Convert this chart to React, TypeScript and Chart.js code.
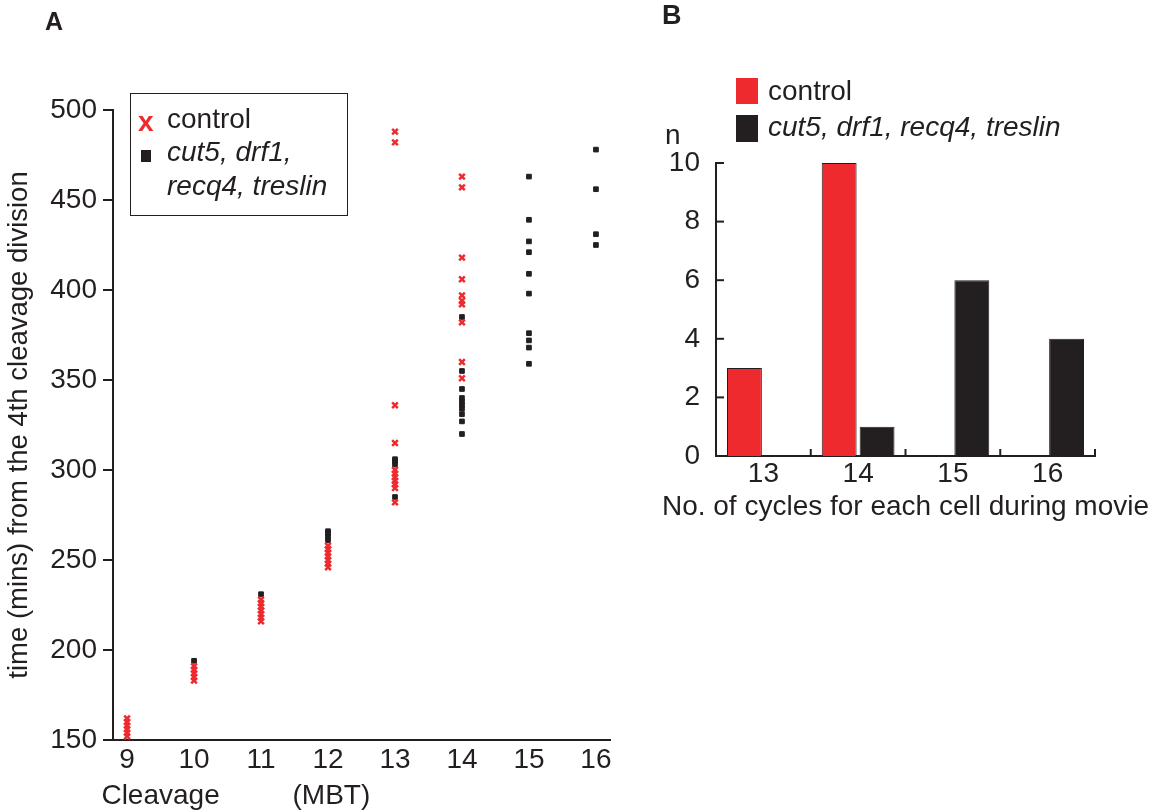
import React, { useEffect, useRef } from 'react';
import { Chart, registerables } from 'chart.js';

Chart.register(...registerables);

const RED = '#EE2A2E';
const INK = '#231F20';
const FONT = '"Liberation Sans", Arial, Helvetica, sans-serif';

// ---------- Panel A data ----------
const cleavages = [9, 10, 11, 12, 13, 14, 15, 16];
const controlTimes: number[][] = [
  [152, 154, 156, 158, 160, 162],
  [183, 185, 187, 189, 191],
  [216, 218, 220, 222, 224, 226, 228],
  [246, 248, 250, 252, 254, 256, 258],
  [488, 482, 336, 315, 300, 298, 296, 294, 292, 290, 282],
  [463, 457, 418, 406, 397, 394, 392, 382, 360, 351],
  [],
  [],
];
const mutantTimes: number[][] = [
  [],
  [194],
  [231],
  [261, 263, 265, 266],
  [303, 305, 306, 285],
  [385, 355, 345, 340, 338, 336, 334, 331, 327, 320],
  [463, 439, 427, 421, 409, 398, 376, 372, 368, 359],
  [478, 456, 431, 425],
];
const timeMin = 150;
const timeMax = 500;
const timeStep = 50;
const yTitleA = 'time (mins) from the 4th cleavage division';

// ---------- Panel B data ----------
const cycleCategories = ['13', '14', '15', '16'];
const controlCounts = [3, 10, 0, 0];
const mutantCounts = [0, 1, 6, 4];
const countTicks = [0, 2, 4, 6, 8, 10];
const xTitleB = 'No. of cycles for each cell during movie';

const toPoints = (groups: number[][]) =>
  groups.flatMap((vals, i) => vals.map((v) => ({ x: cleavages[i], y: v })));

const tickFont = { family: FONT, size: 28 };

const captionA = {
  id: 'captionA',
  afterDraw(chart: any) {
    const { ctx, scales } = chart;
    const x = scales.x;
    ctx.save();
    ctx.fillStyle = INK;
    ctx.font = `28px ${FONT}`;
    ctx.textAlign = 'center';
    ctx.textBaseline = 'alphabetic';
    ctx.fillText('Cleavage', x.getPixelForValue(9.5), x.top + 64);
    ctx.fillText('(MBT)', x.getPixelForValue(12.05), x.top + 64);
    ctx.restore();
  },
};

const innerTicksB = {
  id: 'innerTicksB',
  afterDraw(chart: any) {
    const { ctx, scales, chartArea } = chart;
    const { x, y } = scales;
    ctx.save();
    ctx.strokeStyle = INK;
    ctx.lineWidth = 2;
    for (const v of countTicks) {
      const py = y.getPixelForValue(v);
      ctx.beginPath();
      ctx.moveTo(chartArea.left, py);
      ctx.lineTo(chartArea.left + 8, py);
      ctx.stroke();
    }
    const n = cycleCategories.length;
    const w = (chartArea.right - chartArea.left) / n;
    for (let i = 0; i < n; i++) {
      const px = x.getPixelForValue(i) + w / 2;
      ctx.beginPath();
      ctx.moveTo(px, chartArea.bottom);
      ctx.lineTo(px, chartArea.bottom - 7);
      ctx.stroke();
    }
    ctx.fillStyle = INK;
    ctx.font = `28px ${FONT}`;
    ctx.textAlign = 'center';
    ctx.textBaseline = 'alphabetic';
    ctx.fillText(xTitleB, (chartArea.left + chartArea.right) / 2, chartArea.bottom + 59);
    ctx.restore();
  },
};

function ScatterA() {
  const ref = useRef<HTMLCanvasElement>(null);
  useEffect(() => {
    const chart = new Chart(ref.current!, {
      type: 'scatter',
      data: {
        datasets: [
          {
            label: 'control',
            data: toPoints(controlTimes),
            pointStyle: 'crossRot',
            pointRadius: 4,
            pointBorderWidth: 2.5,
            borderColor: RED,
            backgroundColor: RED,
          } as any,
          {
            label: 'cut5, drf1, recq4, treslin',
            data: toPoints(mutantTimes),
            pointStyle: 'rect',
            pointRadius: 3.3,
            pointBorderWidth: 1,
            borderColor: INK,
            backgroundColor: INK,
          } as any,
        ],
      },
      options: {
        responsive: false,
        animation: false,
        events: [],
        layout: { padding: { top: 110, right: 30, left: 0, bottom: 0 } },
        plugins: { legend: { display: false }, tooltip: { enabled: false } },
        scales: {
          x: {
            type: 'linear',
            min: 8.79,
            max: 16.21,
            afterFit: (s: any) => {
              s.height = 70;
            },
            grid: { display: false },
            border: { display: true, color: INK, width: 2 },
            ticks: {
              stepSize: 1,
              includeBounds: false,
              color: INK,
              font: tickFont,
              padding: -5,
              maxRotation: 0,
            },
          },
          y: {
            type: 'linear',
            min: timeMin,
            max: timeMax,
            afterFit: (s: any) => {
              s.width = 113;
            },
            grid: {
              display: true,
              drawOnChartArea: false,
              drawTicks: true,
              tickLength: 10,
              color: INK,
              lineWidth: 2,
            },
            border: { display: true, color: INK, width: 2 },
            ticks: { stepSize: timeStep, color: INK, font: tickFont, padding: 6 },
            title: {
              display: true,
              text: yTitleA,
              color: INK,
              font: { family: FONT, size: 27.5 },
              padding: { top: 3, bottom: 0 },
            },
          },
        },
      } as any,
      plugins: [captionA],
    });
    return () => chart.destroy();
  }, []);
  return (
    <canvas
      ref={ref}
      width={640}
      height={810}
      style={{ position: 'absolute', left: 0, top: 0, width: 640, height: 810 }}
    />
  );
}

function BarsB() {
  const ref = useRef<HTMLCanvasElement>(null);
  useEffect(() => {
    const chart = new Chart(ref.current!, {
      type: 'bar',
      data: {
        labels: cycleCategories,
        datasets: [
          {
            label: 'control',
            data: controlCounts,
            backgroundColor: RED,
            borderColor: INK,
            borderWidth: 1,
          },
          {
            label: 'cut5, drf1, recq4, treslin',
            data: mutantCounts,
            backgroundColor: INK,
            borderColor: INK,
            borderWidth: 1,
          },
        ],
      },
      options: {
        responsive: false,
        animation: false,
        events: [],
        layout: { padding: { top: 163, right: 71, left: 0, bottom: 0 } },
        datasets: { bar: { categoryPercentage: 0.8, barPercentage: 0.92 } },
        plugins: { legend: { display: false }, tooltip: { enabled: false } },
        scales: {
          x: {
            afterFit: (s: any) => {
              s.height = 80;
            },
            grid: { display: false },
            border: { display: true, color: INK, width: 2 },
            ticks: { color: INK, font: tickFont, padding: -7, maxRotation: 0 },
          },
          y: {
            min: 0,
            max: 10,
            afterFit: (s: any) => {
              s.width = 76;
            },
            grid: { display: false },
            border: { display: true, color: INK, width: 2 },
            ticks: { stepSize: 2, color: INK, font: tickFont, padding: 8 },
          },
        },
      } as any,
      plugins: [innerTicksB],
    });
    return () => chart.destroy();
  }, []);
  return (
    <canvas
      ref={ref}
      width={526}
      height={536}
      style={{ position: 'absolute', left: 640, top: 0, width: 526, height: 536 }}
    />
  );
}

function Txt(props: {
  x: number;
  baseline: number;
  size: number;
  children: React.ReactNode;
  bold?: boolean;
  italic?: boolean;
  color?: string;
}) {
  const { x, baseline, size, children, bold, italic, color } = props;
  const top = baseline - 0.8465 * size;
  return (
    <div
      style={{
        position: 'absolute',
        left: x,
        top,
        fontFamily: FONT,
        fontSize: size,
        lineHeight: `${size}px`,
        fontWeight: bold ? 'bold' : 'normal',
        fontStyle: italic ? 'italic' : 'normal',
        color: color || INK,
        whiteSpace: 'nowrap',
      }}
    >
      {children}
    </div>
  );
}

export default function App() {
  return (
    <div
      style={{
        position: 'fixed',
        left: 0,
        top: 0,
        width: 1166,
        height: 810,
        background: '#fff',
        overflow: 'hidden',
      }}
    >
      <ScatterA />
      <BarsB />

      {/* Panel letters */}
      <Txt x={45} baseline={30} size={25} bold>
        A
      </Txt>
      <Txt x={662} baseline={25} size={27} bold>
        B
      </Txt>

      {/* Legend A */}
      <div
        style={{
          position: 'absolute',
          left: 130,
          top: 93,
          width: 216,
          height: 121,
          border: `1.5px solid ${INK}`,
        }}
      />
      <Txt x={138} baseline={132} size={28} bold color={RED}>
        x
      </Txt>
      <div
        style={{ position: 'absolute', left: 141, top: 150, width: 10, height: 12, background: INK }}
      />
      <Txt x={167} baseline={129} size={28}>
        control
      </Txt>
      <Txt x={167} baseline={162} size={28} italic>
        cut5, drf1,
      </Txt>
      <Txt x={167} baseline={196} size={28} italic>
        recq4, treslin
      </Txt>

      {/* Legend B */}
      <div style={{ position: 'absolute', left: 736, top: 78, width: 22, height: 26, background: RED }} />
      <div style={{ position: 'absolute', left: 736, top: 115, width: 22, height: 27, background: INK }} />
      <Txt x={768} baseline={101} size={28}>
        control
      </Txt>
      <Txt x={768} baseline={137} size={28} italic>
        cut5, drf1, recq4, treslin
      </Txt>
      <Txt x={665} baseline={145} size={28}>
        n
      </Txt>
    </div>
  );
}
